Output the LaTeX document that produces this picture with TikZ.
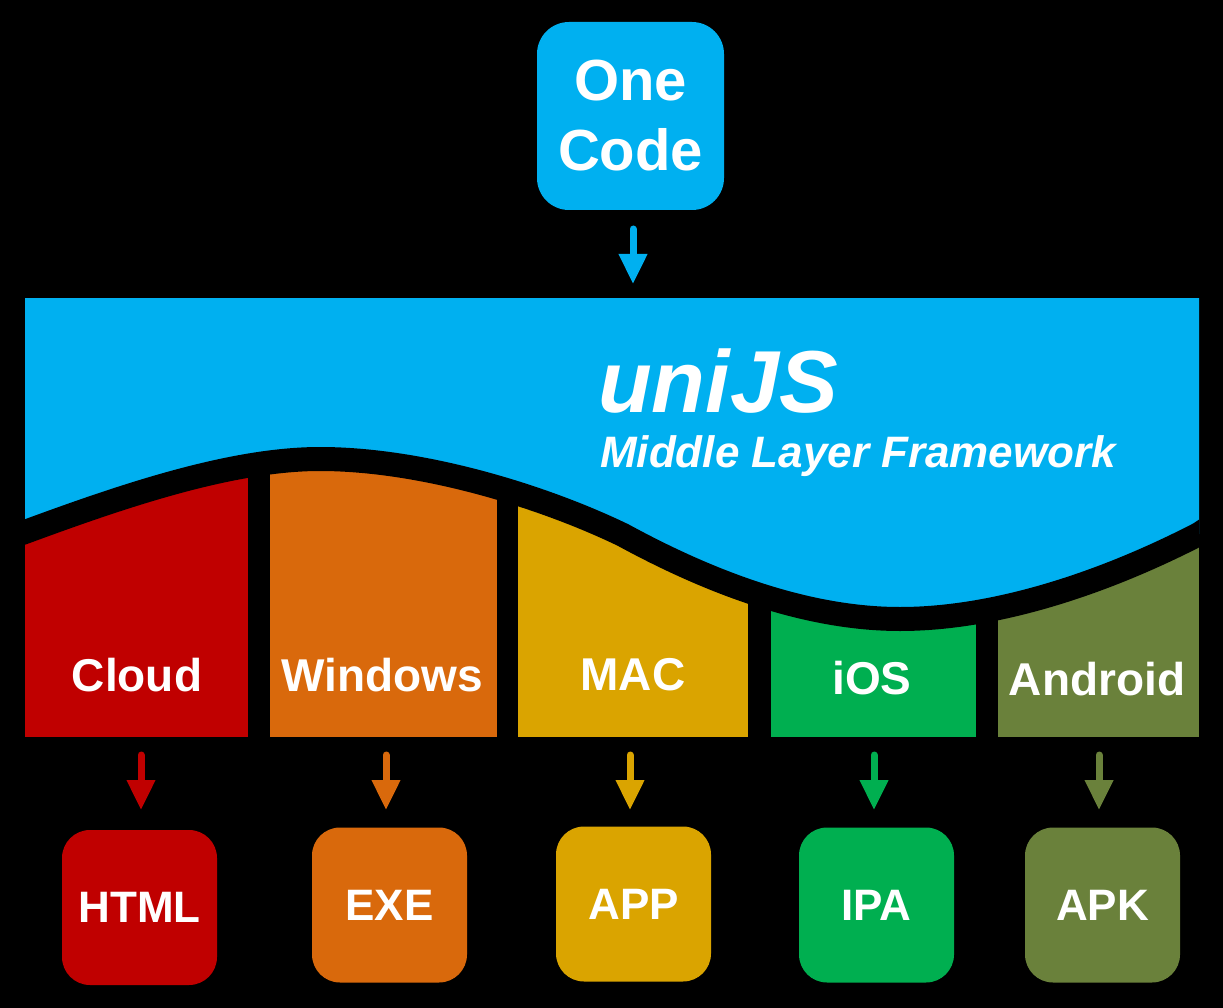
\documentclass[tikz,border=0pt]{standalone}
\usepackage{fontspec}
\setmainfont{Liberation Sans}
\usetikzlibrary{arrows.meta}
\definecolor{cblue}{HTML}{00B0F0}
\definecolor{cred}{HTML}{C00000}
\definecolor{corange}{HTML}{D9690C}
\definecolor{cgold}{HTML}{DAA400}
\definecolor{cgreen}{HTML}{00AF50}
\definecolor{colive}{HTML}{6A813B}
\begin{document}
\begin{tikzpicture}[x=1pt,y=-1pt,
  box/.style={rounded corners=28pt, minimum width=155pt, minimum height=155pt, inner sep=0pt, text=white, font=\fontsize{44}{50}\selectfont\bfseries},
  lab/.style={text=white, inner sep=0pt, font=\fontsize{46}{50}\selectfont\bfseries},
  flow/.style={line width=7pt, line cap=round, -{Triangle[width=27pt,length=30pt]}}]
% background
\fill[black] (0,0) rectangle (1223,1008);
\useasboundingbox (0,0) rectangle (1223,1008);
% columns
\fill[cred] (25,440) rectangle (248,737);
\fill[corange] (270,440) rectangle (497,737);
\fill[cgold] (518,440) rectangle (748,737);
\fill[cgreen] (771,440) rectangle (976,737);
\fill[colive] (998,440) rectangle (1199,737);
% blue layer with wave
\def\wave{(25,532) .. controls (120,497) and (230,459) .. (320,459)
  .. controls (420,459) and (540,495) .. (623,535)
  .. controls (700,577) and (800,619) .. (900,619)
  .. controls (1000,619) and (1110,580) .. (1199,534)}
\begin{scope}
  \clip (25,298) rectangle (1199,760);
  \fill[cblue] (-20,298) -- (-20,548) -- \wave -- (1243,505) -- (1243,298) -- cycle;
  \draw[black, line width=24pt] (-20,548) -- \wave -- (1243,505);
\end{scope}
% texts in blue layer
\node[anchor=base west, inner sep=0pt, text=white, font=\fontsize{88}{90}\selectfont\bfseries\itshape] (uni) at (598,412) {uniJS};
\node[anchor=base west, inner sep=0pt, text=white, font=\fontsize{44}{46}\selectfont\bfseries\itshape] (mlf) at (600,467) {Middle Layer Framework};
% column labels
\node[lab] (cloud) at (137,675) {Cloud};
\node[lab] (win) at (382,675) {Windows};
\node[lab] (mac) at (633,675) {MAC};
\node[lab] (ios) at (872,678) {iOS};
\node[lab] (andr) at (1097,679) {Android};
% One Code
\node[fill=cblue, rounded corners=32pt, minimum width=187pt, minimum height=188pt, inner sep=0pt, text=white, align=center, font=\fontsize{58}{70}\selectfont\bfseries] (oc) at (630.5,116) {One\\Code};
% bottom boxes
\node[box, fill=cred] (html) at (139.5,907.5) {HTML};
\node[box, fill=corange] (exe) at (389.5,905) {EXE};
\node[box, fill=cgold] (app) at (633.5,904) {APP};
\node[box, fill=cgreen] (ipa) at (876.5,905) {IPA};
\node[box, fill=colive] (apk) at (1102.5,905) {APK};
% arrows
\coordinate (a0s) at (633,229); \coordinate (a0e) at (633,284);
\coordinate (a1s) at (141,755); \coordinate (a1e) at (141,810);
\coordinate (a2s) at (386,755); \coordinate (a2e) at (386,810);
\coordinate (a3s) at (630,755); \coordinate (a3e) at (630,810);
\coordinate (a4s) at (874,755); \coordinate (a4e) at (874,810);
\coordinate (a5s) at (1099,755); \coordinate (a5e) at (1099,810);
\draw[flow, cblue] (a0s) -- (a0e);
\draw[flow, cred] (a1s) -- (a1e);
\draw[flow, corange] (a2s) -- (a2e);
\draw[flow, cgold] (a3s) -- (a3e);
\draw[flow, cgreen] (a4s) -- (a4e);
\draw[flow, colive] (a5s) -- (a5e);
\end{tikzpicture}
\end{document}
